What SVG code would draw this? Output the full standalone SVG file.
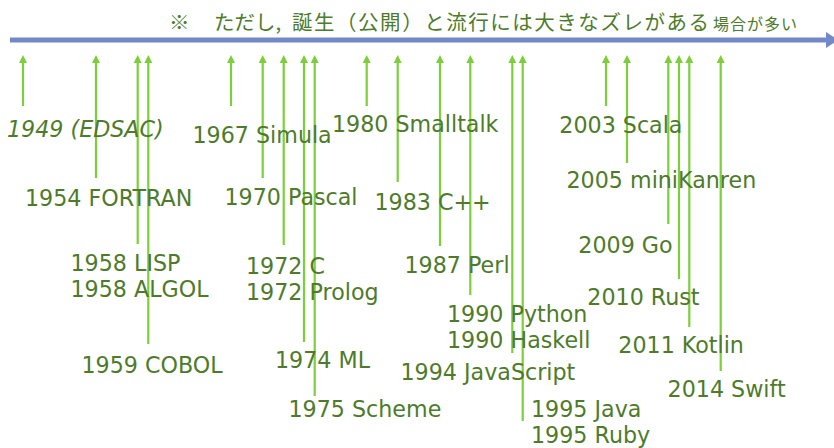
<svg xmlns="http://www.w3.org/2000/svg" width="834" height="448" viewBox="0 0 834 448">
<style>
.lbl{font-family:"DejaVu Sans","Verdana",sans-serif;font-size:22.2px;fill:#4E7B2A}
.it{font-style:italic}
.note{font-family:"Noto Sans CJK JP","Noto Sans",sans-serif;fill:#4E7B2A}
.arr{stroke:#7CCF3A;stroke-width:2.2;fill:none;marker-end:url(#ah)}
</style>
<defs>
<marker id="ah" markerUnits="userSpaceOnUse" markerWidth="10" markerHeight="10" viewBox="0 0 10 10" refX="4" refY="5" orient="auto">
<path d="M0,1 L8,5 L0,9 Z" fill="#7CCF3A"/>
</marker>
</defs>
<rect width="834" height="448" fill="#ffffff"/>
<g id="timeline">
<line x1="10" y1="40" x2="828" y2="40" stroke="#7289C8" stroke-width="5"/>
<polygon points="826,32 838,40 826,48" fill="#7289C8"/>
</g>
<g id="note">
<text class="note" y="29.5" font-size="20.5"><tspan x="169">※</tspan><tspan x="214">ただし,</tspan><tspan x="292" textLength="417" lengthAdjust="spacing">誕生（公開）と流行には大きなズレがある</tspan><tspan x="713" font-size="16" textLength="84" lengthAdjust="spacing">場合が多い</tspan></text>
</g>
<g id="connectors">
<line class="arr" x1="23" y1="106" x2="23" y2="59"/>
<line class="arr" x1="96" y1="178" x2="96" y2="59"/>
<line class="arr" x1="137.7" y1="244" x2="137.7" y2="59"/>
<line class="arr" x1="148.3" y1="344" x2="148.3" y2="59"/>
<line class="arr" x1="231" y1="106" x2="231" y2="59"/>
<line class="arr" x1="262.7" y1="178" x2="262.7" y2="59"/>
<line class="arr" x1="283.7" y1="245" x2="283.7" y2="59"/>
<line class="arr" x1="304" y1="342" x2="304" y2="59"/>
<line class="arr" x1="314.7" y1="396" x2="314.7" y2="59"/>
<line class="arr" x1="366.7" y1="106" x2="366.7" y2="59"/>
<line class="arr" x1="397.7" y1="182" x2="397.7" y2="59"/>
<line class="arr" x1="440" y1="246" x2="440" y2="59"/>
<line class="arr" x1="470.3" y1="295" x2="470.3" y2="59"/>
<line class="arr" x1="512.3" y1="353" x2="512.3" y2="59"/>
<line class="arr" x1="522.7" y1="421" x2="522.7" y2="59"/>
<line class="arr" x1="606" y1="106" x2="606" y2="59"/>
<line class="arr" x1="627" y1="163" x2="627" y2="59"/>
<line class="arr" x1="668.3" y1="224" x2="668.3" y2="59"/>
<line class="arr" x1="679" y1="279" x2="679" y2="59"/>
<line class="arr" x1="689.3" y1="327" x2="689.3" y2="59"/>
<line class="arr" x1="720.7" y1="371" x2="720.7" y2="59"/>
</g>
<g id="n1949"><text class="lbl it" x="7" y="137">1949 (EDSAC)</text></g>
<g id="n1954"><text class="lbl" x="25" y="206">1954 FORTRAN</text></g>
<g id="n1958"><text class="lbl" x="70.5" y="271">1958 LISP</text><text class="lbl" x="70.5" y="297">1958 ALGOL</text></g>
<g id="n1959"><text class="lbl" x="81.5" y="372.5">1959 COBOL</text></g>
<g id="n1967"><text class="lbl" x="192.5" y="143">1967 Simula</text></g>
<g id="n1970"><text class="lbl" x="224.5" y="205">1970 Pascal</text></g>
<g id="n1972"><text class="lbl" x="246" y="274">1972 C</text><text class="lbl" x="246" y="300">1972 Prolog</text></g>
<g id="n1974"><text class="lbl" x="275" y="367.5">1974 ML</text></g>
<g id="n1975"><text class="lbl" x="288.5" y="416.5">1975 Scheme</text></g>
<g id="n1980"><text class="lbl" x="332" y="131.5">1980 Smalltalk</text></g>
<g id="n1983"><text class="lbl" x="374.5" y="210">1983 C++</text></g>
<g id="n1987"><text class="lbl" x="404.5" y="272.5">1987 Perl</text></g>
<g id="n1990"><text class="lbl" x="447" y="321.5">1990 Python</text><text class="lbl" x="447" y="348">1990 Haskell</text></g>
<g id="n1994"><text class="lbl" x="400.5" y="380">1994 JavaScript</text></g>
<g id="n1995"><text class="lbl" x="531" y="416.5">1995 Java</text><text class="lbl" x="531" y="442.5">1995 Ruby</text></g>
<g id="n2003"><text class="lbl" x="559.3" y="132.5">2003 Scala</text></g>
<g id="n2005"><text class="lbl" x="566.5" y="187.5">2005 miniKanren</text></g>
<g id="n2009"><text class="lbl" x="578.3" y="252.5">2009 Go</text></g>
<g id="n2010"><text class="lbl" x="587.3" y="305">2010 Rust</text></g>
<g id="n2011"><text class="lbl" x="618.3" y="352.5">2011 Kotlin</text></g>
<g id="n2014"><text class="lbl" x="667.6" y="396.5">2014 Swift</text></g>
</svg>
